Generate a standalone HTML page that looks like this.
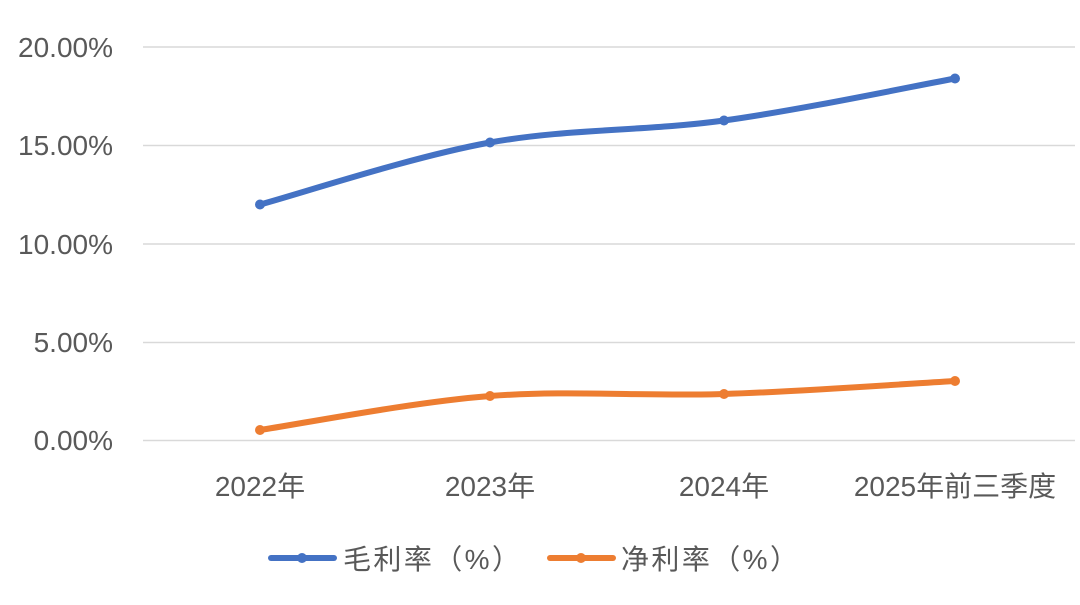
<!DOCTYPE html>
<html><head><meta charset="utf-8"><style>
body{margin:0;background:#fff;}
svg text{font-family:"Liberation Sans","Noto Sans CJK SC",sans-serif;fill:#595959;font-size:28px;}
</style></head><body>
<svg width="1080" height="600" xmlns="http://www.w3.org/2000/svg">
<g stroke="#d9d9d9" stroke-width="1.5">
<line x1="143" x2="1075" y1="47" y2="47"/>
<line x1="143" x2="1075" y1="145.5" y2="145.5"/>
<line x1="143" x2="1075" y1="244" y2="244"/>
<line x1="143" x2="1075" y1="342.5" y2="342.5"/>
<line x1="143" x2="1075" y1="440.5" y2="440.5"/>
</g>
<g text-anchor="end">
<text x="113" y="57">20.00%</text>
<text x="113" y="155">15.00%</text>
<text x="113" y="254">10.00%</text>
<text x="113" y="352">5.00%</text>
<text x="113" y="450">0.00%</text>
</g>
<g text-anchor="middle">
<text x="260" y="496">2022年</text>
<text x="490" y="496">2023年</text>
<text x="724" y="496">2024年</text>
<text x="955" y="496">2025年前三季度</text>
</g>
<path d="M260,204.5 C298.3,194.2 412.7,156.5 490,142.5 C567.3,128.5 646.5,131.2 724,120.5 C801.5,109.8 916.5,85.5 955,78.5" fill="none" stroke="#4472c4" stroke-width="6" stroke-linecap="round"/>
<path d="M260,430 C298.3,424.3 412.7,402 490,396 C567.3,390 646.5,396.5 724,394 C801.5,391.5 916.5,383.2 955,381" fill="none" stroke="#ed7d31" stroke-width="6" stroke-linecap="round"/>
<g fill="#4472c4"><circle cx="260" cy="204.5" r="5"/><circle cx="490" cy="142.5" r="5"/><circle cx="724" cy="120.5" r="5"/><circle cx="955" cy="78.5" r="5"/></g>
<g fill="#ed7d31"><circle cx="260" cy="430" r="5"/><circle cx="490" cy="396" r="5"/><circle cx="724" cy="394" r="5"/><circle cx="955" cy="381" r="5"/></g>
<line x1="271" x2="334" y1="558" y2="558" stroke="#4472c4" stroke-width="6" stroke-linecap="round"/>
<circle cx="302" cy="558" r="5" fill="#4472c4"/>
<text x="343" y="569" font-size="30" textLength="177">毛利率（%）</text>
<line x1="550" x2="613" y1="558" y2="558" stroke="#ed7d31" stroke-width="6" stroke-linecap="round"/>
<circle cx="581" cy="558" r="5" fill="#ed7d31"/>
<text x="621" y="569" font-size="30" textLength="177">净利率（%）</text>
</svg>
</body></html>
